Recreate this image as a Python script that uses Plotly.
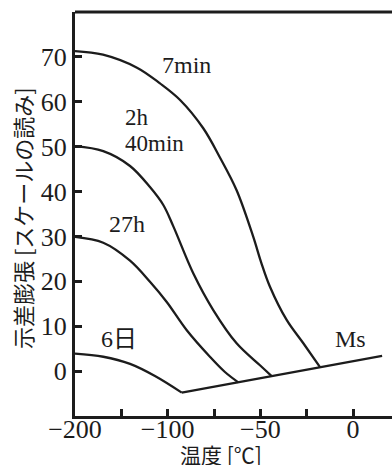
import plotly.graph_objects as go

# ---- data (temperature in °C, differential dilatation in scale readings) ----
t_7min = [-200, -169.8, -133.1, -108.3, -93.3, -80.8, -71.8, -62.8, -53.8, -49.6, -44.8, -35.8, -26.8, -17.8]
v_7min = [71.3, 70.5, 67.6, 64.1, 60.4, 54.1, 47.6, 40.3, 29.9, 24.3, 18.8, 11.4, 6.2, 0.9]

t_2h40 = [-200, -169.5, -140.6, -119.1, -104.7, -97.0, -86.2, -75.4, -62.8, -50.2, -43.9]
v_2h40 = [50.1, 49.0, 45.7, 41.0, 37.0, 32.3, 21.8, 13.6, 6.2, 1.3, -1.1]

t_27h = [-200, -169.5, -140.6, -119.1, -101.0, -89.7, -77.2, -69.1, -61.9]
v_27h = [29.9, 28.6, 24.6, 19.9, 15.4, 9.1, 3.2, -0.2, -2.5]

t_6d = [-200, -169.5, -140.6, -113.7, -92.4]
v_6d = [3.9, 3.2, 1.6, -1.1, -4.8]

t_ms = [-92.4, 15.7]
v_ms = [-4.8, 3.4]

x_tick_temps = [-200, -150, -100, -75, -50, -25, 0]
x_tick_text = ["\u2212200", "", "\u2212100", "", "\u221250", "", "0"]
y_tick_vals = [0, 10, 20, 30, 40, 50, 60, 70]

labels = ["7min", "2h", "40min", "27h", "6日", "Ms"]
label_t = [-89.8, -148.2, -148.2, -144.2, -152.5, -1.6]
label_v = [68.2, 56.7, 50.8, 32.7, 7.1, 7.1]
label_anchor = ["center", "left", "left", "center", "center", "center"]
label_size = [24, 23, 23, 24, 24, 24]


# broken temperature scale: -200..-100 is drawn at half the scale of -100..0
def scale(t):
    return t if t >= -100 else -100 + (t + 100) / 2.0


def sc(ts):
    return [scale(t) for t in ts]


INK = "#1c1c1c"
SERIF = "Liberation Serif"
JP = "Noto Sans CJK JP"

fig = go.Figure()
for ts, vs in [(t_7min, v_7min), (t_2h40, v_2h40), (t_27h, v_27h), (t_6d, v_6d)]:
    fig.add_trace(go.Scatter(x=sc(ts), y=vs, mode="lines",
                             line=dict(color=INK, width=2.3, shape="spline", smoothing=1.0),
                             showlegend=False, hoverinfo="skip"))
fig.add_trace(go.Scatter(x=sc(t_ms), y=v_ms, mode="lines",
                         line=dict(color=INK, width=2.3), showlegend=False, hoverinfo="skip"))

for txt, t, v, a, s in zip(labels, label_t, label_v, label_anchor, label_size):
    fig.add_annotation(x=scale(t), y=v, text=txt, showarrow=False, xanchor=a,
                       height=22, valign="middle",
                       font=dict(family=SERIF + ", " + JP, size=s, color=INK))

W, H = 392, 468
ML, MT, MB = 75, 12, 52
px_per_u = 278.0 / 150.0
x_right = (W - ML) / px_per_u - 150

fig.update_layout(
    width=W, height=H,
    margin=dict(l=ML, r=0, t=MT, b=MB),
    paper_bgcolor="white", plot_bgcolor="white",
    xaxis=dict(range=[-150, x_right], showgrid=False, zeroline=False,
               showline=True, linecolor=INK, linewidth=3,
               tickmode="array", tickvals=sc(x_tick_temps), ticktext=x_tick_text,
               ticks="inside", ticklen=7, tickwidth=2.5, tickcolor=INK,
               tickfont=dict(family=SERIF, size=26, color=INK), ticklabelstandoff=-12),
    yaxis=dict(range=[-10, 80], showgrid=False, zeroline=False,
               showline=True, linecolor=INK, linewidth=3,
               tickmode="array", tickvals=y_tick_vals,
               ticks="inside", ticklen=7, tickwidth=2.5, tickcolor=INK,
               tickfont=dict(family=SERIF, size=26, color=INK), ticklabelstandoff=0),
)
# top frame line
fig.add_shape(type="line", xref="paper", yref="paper", x0=0, x1=1, y0=1, y1=1,
              line=dict(color=INK, width=3))

# axis titles
fig.add_annotation(xref="paper", yref="paper", x=(221 - ML) / (W - ML), y=0, yshift=-38,
                   yanchor="middle", height=22, valign="middle",
                   text="温度 [℃]", showarrow=False,
                   font=dict(family=JP, size=21, color=INK))
fig.add_annotation(xref="paper", yref="paper", x=0, xshift=-53, y=0.49, textangle=-90,
                   xanchor="center", text="示差膨張 [スケールの読み]", showarrow=False,
                   font=dict(family=JP, size=22, color=INK))

fig.write_html("out.html")
